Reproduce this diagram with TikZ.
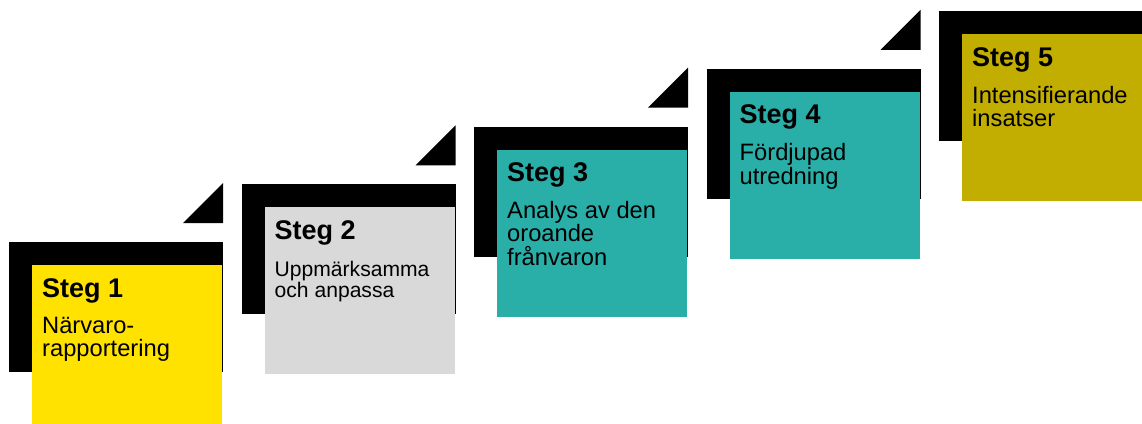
\documentclass[tikz,border=0pt]{standalone}
\usepackage{fontspec}
\setmainfont{Liberation Sans}
\definecolor{stegyellow}{RGB}{255,226,0}
\definecolor{steggrey}{RGB}{217,217,217}
\definecolor{stegteal}{RGB}{42,174,168}
\definecolor{stegolive}{RGB}{193,174,0}
\newcommand*\boxwidth{190}
\newcommand*\boxheight{167}
\tikzset{
    stepbox/.style={
        rectangle,
        anchor=north west,
        inner sep=0pt,
        minimum width=\boxwidth pt,
        minimum height=\boxheight pt
    },
    steptitle/.style={
        anchor=base west,
        inner sep=0pt,
        font=\fontsize{27}{30}\selectfont\bfseries
    },
    steptext/.style={
        anchor=north west,
        inner sep=0pt,
        align=left,
        font=\fontsize{23.7}{23.4}\selectfont
    },
    steptextsmall/.style={
        steptext,
        font=\fontsize{21.1}{21.6}\selectfont
    }
}
\begin{document}
\begin{tikzpicture}[x=1pt,y=-1pt]

    \clip (0,0) rectangle (1142,423);

    % First the corner of each box: 232.5 to the right and 57.75 up per step.
    \foreach \n in {1,2,3,4,5}
        \coordinate (c\n) at ({32+232.5*(\n-1)},{265-57.75*(\n-1)});

    % Draw the black shadows behind the boxes.
    \foreach \n in {1,2,3,4,5}
        \fill ([shift={(-23,-23)}]c\n) rectangle ++(214,130);

    % Draw the black triangles above the shadows.
    \foreach \n in {1,2,3,4}
        \fill ([shift={(191,-42)}]c\n) -- ++(-40,0) -- ++(40,-40) -- cycle;

    % Draw the coloured boxes.
    \node[stepbox, fill=stegyellow] (box1) at (c1) {};
    \node[stepbox, fill=steggrey] (box2) at (c2) {};
    \node[stepbox, fill=stegteal] (box3) at (c3) {};
    \node[stepbox, fill=stegteal] (box4) at (c4) {};
    \node[stepbox, fill=stegolive] (box5) at (c5) {};

    % Write the titles and the texts.
    \foreach \n in {1,2,3,4,5}
        \node[steptitle] (title\n) at ([shift={(10,32)}]box\n.north west) {Steg \n};

    \node[steptext] (text1) at ([shift={(10,51.7)}]box1.north west) {Närvaro-\\rapportering};
    \node[steptextsmall] (text2) at ([shift={(10,53.6)}]box2.north west) {Uppmärksamma\\och anpassa};
    \node[steptext] (text3) at ([shift={(10,51.7)}]box3.north west) {Analys av den\\oroande\\frånvaron};
    \node[steptext] (text4) at ([shift={(10,51.7)}]box4.north west) {Fördjupad\\utredning};
    \node[steptext] (text5) at ([shift={(10,51.7)}]box5.north west) {Intensifierande\\insatser};

\end{tikzpicture}
\end{document}
